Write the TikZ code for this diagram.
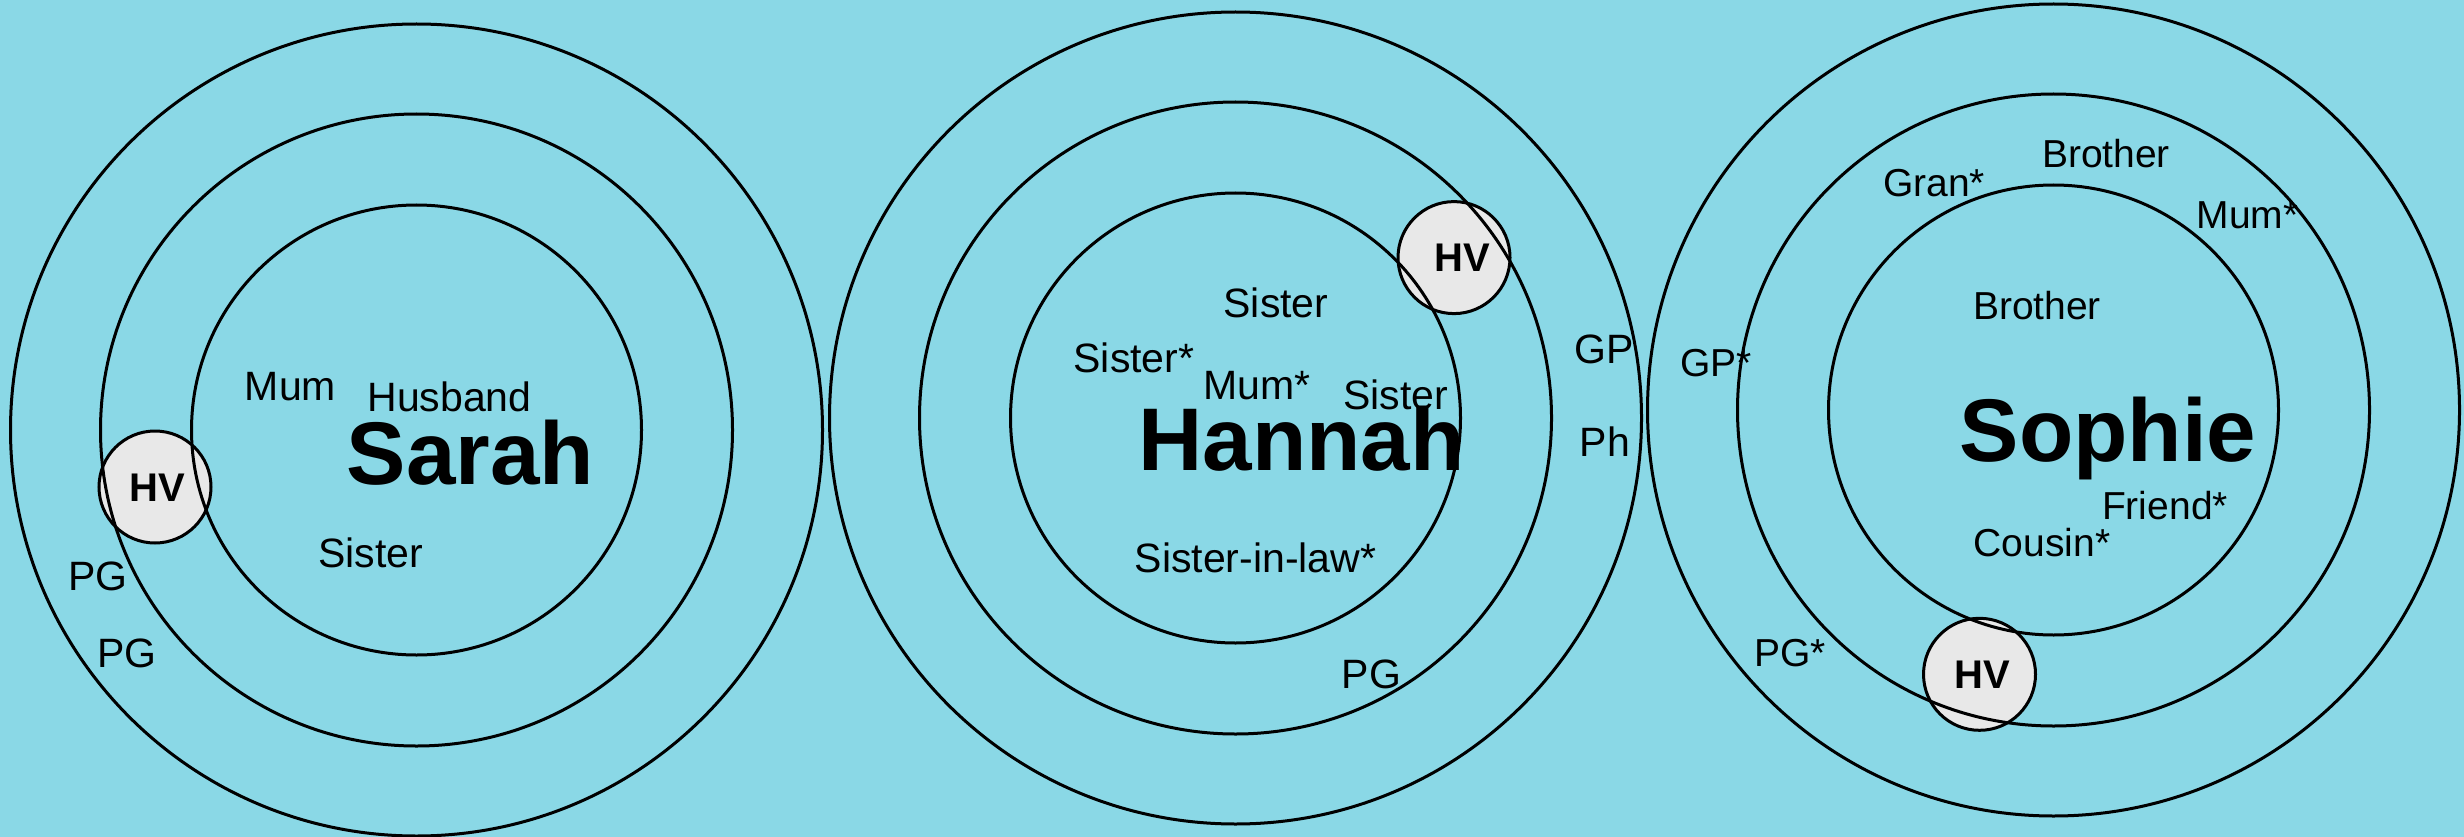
\documentclass[tikz,border=0pt]{standalone}
\usepackage{fontspec}
\setmainfont{Liberation Sans}
\definecolor{bgblue}{RGB}{138,216,230}
\definecolor{hvgray}{RGB}{232,232,232}
\tikzset{
  ring/.style={circle, draw=black, line width=3pt, inner sep=0pt},
  ringA/.style={ring, minimum size=450pt},
  ringB/.style={ring, minimum size=632pt},
  ringC/.style={ring, minimum size=812pt},
  hvc/.style={circle, draw=black, fill=hvgray, line width=3pt, minimum size=112pt, inner sep=0pt},
  lbl/.style={anchor=base, inner sep=0pt, text=black, font=\fontsize{41}{41}\selectfont},
  lbls/.style={anchor=base, inner sep=0pt, text=black, font=\fontsize{39}{39}\selectfont},
  nm/.style={anchor=base, inner sep=0pt, text=black, font=\fontsize{89}{89}\selectfont\bfseries},
  hvt/.style={anchor=base, inner sep=0pt, text=black, font=\fontsize{40}{40}\selectfont\bfseries},
}
\begin{document}
\begin{tikzpicture}[x=1pt,y=-1pt]
\useasboundingbox (0,0) rectangle (2464,837);
\fill[bgblue] (0,0) rectangle (2464,837);

% HV circles (beneath rings)
\node[hvc] (hv1) at (155,487) {};
\node[hvc] (hv2) at (1454,257.6) {};
\node[hvc] (hv3) at (1979.5,674.3) {};

% Sarah rings
\node[ringA] (sa1) at (416.5,430) {};
\node[ringB] (sa2) at (416.5,430) {};
\node[ringC] (sa3) at (416.5,430) {};
% Hannah rings
\node[ringA] (ha1) at (1235.5,418) {};
\node[ringB] (ha2) at (1235.5,418) {};
\node[ringC] (ha3) at (1235.5,418) {};
% Sophie rings
\node[ringA] (so1) at (2053.5,410) {};
\node[ringB] (so2) at (2053.5,410) {};
\node[ringC] (so3) at (2053.5,410) {};

% HV labels
\node[hvt] (hvt1) at (157,501.9) {HV};
\node[hvt] (hvt2) at (1462.7,271.2) {HV};
\node[hvt] (hvt3) at (1982,688.7) {HV};

% Sarah texts
\node[lbl] (s-mum) at (290.4,400.4) {Mum};
\node[lbl] (s-hus) at (449.5,411) {Husband};
\node[nm]  (s-name) at (470.6,484.8) {Sarah};
\node[lbl] (s-sis) at (370.6,567.5) {Sister};
\node[lbl] (s-pg1) at (98,590) {PG};
\node[lbl] (s-pg2) at (127,667.4) {PG};

% Hannah texts
\node[lbl] (h-sis1) at (1276,317.7) {Sister};
\node[lbl] (h-sis2) at (1134,372.7) {Sister*};
\node[lbl] (h-mum) at (1257,399.4) {Mum*};
\node[lbl] (h-sis3) at (1395.5,409.5) {Sister};
\node[nm]  (h-name) at (1301.5,470.9) {Hannah};
\node[lbl] (h-sil) at (1255.4,572.9) {Sister-in-law*};
\node[lbl] (h-pg) at (1371.4,688.7) {PG};
\node[lbl] (h-gp) at (1604,363) {GP};
\node[lbl] (h-ph) at (1605,456.7) {Ph};

% Sophie texts
\node[lbls] (p-bro1) at (2106,167.1) {Brother};
\node[lbls] (p-gran) at (1934,196.5) {Gran*};
\node[lbls] (p-mum) at (2247.5,228.5) {Mum*};
\node[lbls] (p-bro2) at (2037,319.3) {Brother};
\node[lbls] (p-gp) at (1716,376.4) {GP*};
\node[nm]  (p-name) at (2108,461) {Sophie};
\node[lbls] (p-fri) at (2165,519.5) {Friend*};
\node[lbls] (p-cou) at (2042,556.9) {Cousin*};
\node[lbls] (p-pg) at (1790,666.3) {PG*};
\end{tikzpicture}
\end{document}
